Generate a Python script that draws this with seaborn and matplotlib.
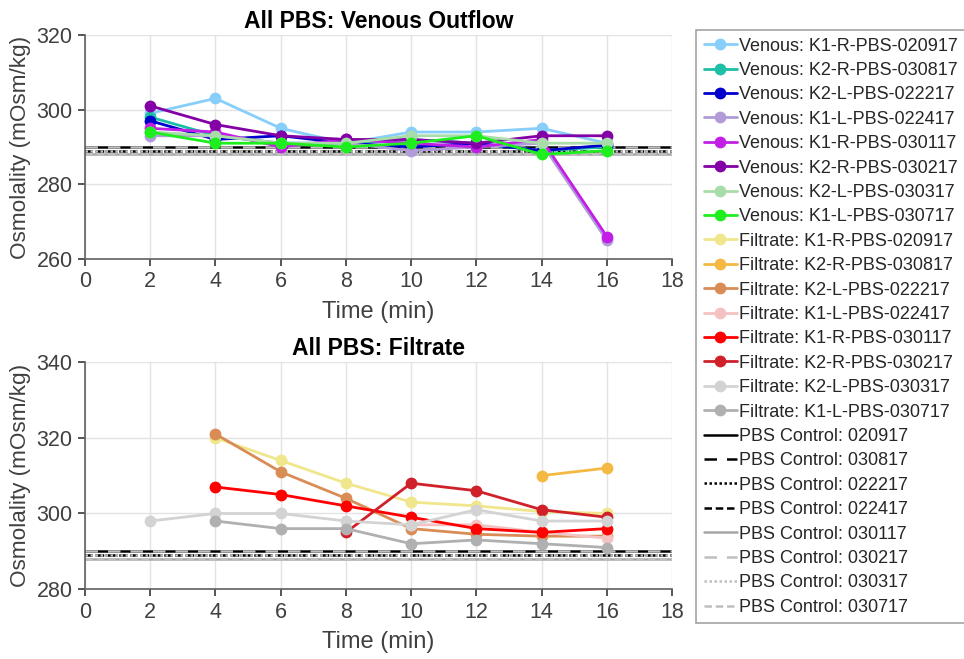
import numpy as np
import pandas as pd
import matplotlib
matplotlib.use("Agg")
import matplotlib.pyplot as plt
import seaborn as sns

sns.set_theme(style="whitegrid")
plt.rcParams['font.family'] = ['Liberation Sans', 'DejaVu Sans']

time = [2, 4, 6, 8, 10, 12, 14, 16]

venous_labels = [
    "Venous: K1-R-PBS-020917", "Venous: K2-R-PBS-030817", "Venous: K2-L-PBS-022217",
    "Venous: K1-L-PBS-022417", "Venous: K1-R-PBS-030117", "Venous: K2-R-PBS-030217",
    "Venous: K2-L-PBS-030317", "Venous: K1-L-PBS-030717",
]
venous_colors = ["#87CEFA", "#1DBFA6", "#0000CD", "#B19CD9", "#C31EE6", "#8300A6", "#A8DCA8", "#1EEE1E"]
v_k1r_020917 = [299, 303, 295, 291, 294, 294, 295, 291]
v_k2r_030817 = [298, 293, 291, 291, 292, 291, 289, 290]
v_k2l_022217 = [297, 292, 293, 291, 290, 291, 289, 290.5]
v_k1l_022417 = [293, 293, 291, 291, 289, 290, 291, 265]
v_k1r_030117 = [295, 294, 290, 292, 291, 290, 292, 266]
v_k2r_030217 = [301, 296, 293, 292, 292, 291, 293, 293]
v_k2l_030317 = [294, 293, 291, 291, 293, 293, 291, 291]
v_k1l_030717 = [294, 291, 291, 290, 291, 293, 288, 289]
venous_values = [v_k1r_020917, v_k2r_030817, v_k2l_022217, v_k1l_022417,
                 v_k1r_030117, v_k2r_030217, v_k2l_030317, v_k1l_030717]

filtrate_labels = [
    "Filtrate: K1-R-PBS-020917", "Filtrate: K2-R-PBS-030817", "Filtrate: K2-L-PBS-022217",
    "Filtrate: K1-L-PBS-022417", "Filtrate: K1-R-PBS-030117", "Filtrate: K2-R-PBS-030217",
    "Filtrate: K2-L-PBS-030317", "Filtrate: K1-L-PBS-030717",
]
filtrate_colors = ["#F0E68C", "#F4B942", "#D98C55", "#F4C2C2", "#FF0000", "#D0202A", "#D3D3D3", "#B0B0B0"]
nan = np.nan
f_k1r_020917 = [nan, 320, 314, 308, 303, 302, 300.5, 300]
f_k2r_030817 = [nan, nan, nan, nan, nan, nan, 310, 312]
f_k2l_022217 = [nan, 321, 311, 304, 296, 294.5, 294, 294]
f_k1l_022417 = [nan, nan, nan, nan, 297, 297, 295, 293.5]
f_k1r_030117 = [nan, 307, 305, 302, 299, 296, 295, 296]
f_k2r_030217 = [nan, nan, nan, 295, 308, 306, 301, 299]
f_k2l_030317 = [298, 300, 300, 298, 297, 301, 298, 298]
f_k1l_030717 = [nan, 298, 296, 296, 292, 293, 292, 291]
filtrate_values = [f_k1r_020917, f_k2r_030817, f_k2l_022217, f_k1l_022417,
                   f_k1r_030117, f_k2r_030217, f_k2l_030317, f_k1l_030717]

control_labels = ["PBS Control: 020917", "PBS Control: 030817", "PBS Control: 022217",
                  "PBS Control: 022417", "PBS Control: 030117", "PBS Control: 030217",
                  "PBS Control: 030317", "PBS Control: 030717"]
control_values = [290, 290, 289, 289, 288, 290, 289, 288]
control_colors = ["black", "black", "black", "black", "#A6A6A6", "#BFBFBF", "#BFBFBF", "#BFBFBF"]
control_styles = ["-", (0, (5, 4)), (0, (1, 1)), (0, (3, 1.5)), "-", (0, (5, 4)), (0, (1, 1)), (0, (3, 1.5))]

fig = plt.figure(figsize=(9.64, 6.59), dpi=100)
ax1 = fig.add_axes([0.0882, 0.607, 0.609, 0.340])
ax2 = fig.add_axes([0.0882, 0.106, 0.609, 0.3445])

tick_color = "#404040"

def draw(ax, labels, colors, values):
    for lab, col, vals in zip(labels, colors, values):
        df = pd.DataFrame({"t": time, "v": vals}).dropna()
        sns.lineplot(data=df, x="t", y="v", ax=ax, color=col, marker="o",
                     markersize=8.5, markeredgewidth=0, linewidth=2, label=lab)
    for lab, val, col, ls in zip(control_labels, control_values, control_colors, control_styles):
        ax.axhline(val, color=col, linestyle=ls, linewidth=1.8, label=lab, zorder=1.5)

draw(ax1, venous_labels, venous_colors, venous_values)
draw(ax2, filtrate_labels, filtrate_colors, filtrate_values)

for ax, title, ylim, yt in [(ax1, "All PBS: Venous Outflow", (260, 320), [260, 280, 300, 320]),
                            (ax2, "All PBS: Filtrate", (280, 340), [280, 300, 320, 340])]:
    ax.set_xlim(0, 18)
    ax.set_ylim(*ylim)
    ax.set_xticks(range(0, 19, 2))
    ax.set_yticks(yt)
    ax.set_title(title, fontsize=16.5, fontweight="bold", color="black", pad=5)
    ax.set_xlabel("Time (min)", fontsize=17, color=tick_color, labelpad=6)
    ax.set_ylabel("Osmolality (mOsm/kg)", fontsize=16.2, color=tick_color, labelpad=4)
    ax.tick_params(axis="both", labelsize=15.5, colors=tick_color, length=5, direction="out",
                   left=True, bottom=True, pad=4)
    ax.grid(True, color="#E3E3E3", linewidth=1)
    ax.set_facecolor("white")
    for s in ["top", "right"]:
        ax.spines[s].set_visible(False)
    for s in ["left", "bottom"]:
        ax.spines[s].set_color("#606060")
        ax.spines[s].set_linewidth(1.2)
    ax.get_legend().remove()

h1, l1 = ax1.get_legend_handles_labels()
h2, l2 = ax2.get_legend_handles_labels()
handles = h1[:8] + h2[:8] + h1[8:]
labels = l1[:8] + l2[:8] + l1[8:]
leg = fig.legend(handles, labels, loc="upper left", bbox_to_anchor=(0.7225, 0.9545),
                 fontsize=13, frameon=True, fancybox=False, handlelength=1.8,
                 handletextpad=0.15, labelspacing=0.41, borderpad=0.42, borderaxespad=0)
leg.get_frame().set_edgecolor("#8C8C8C")
leg.get_frame().set_linewidth(1.2)

fig.savefig("out.png", dpi=100)
